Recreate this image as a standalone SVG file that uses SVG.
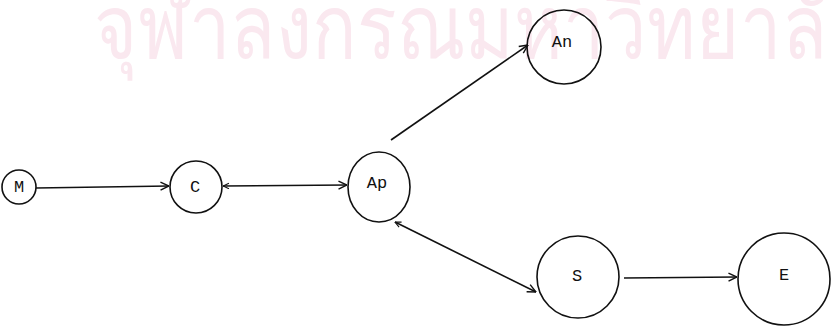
<svg xmlns="http://www.w3.org/2000/svg" width="832" height="330" viewBox="0 0 832 330">
<defs>
<style>
.node circle,.node ellipse{fill:none;stroke:#111;stroke-width:1.6}
.node text{font-family:"Liberation Mono","DejaVu Sans Mono",monospace;font-size:17px;fill:#111;text-anchor:middle;dominant-baseline:central}
.edge{stroke:#111;stroke-width:1.6;fill:none}
.wm{font-family:"Noto Sans","DejaVu Sans",sans-serif;font-size:88px;fill:#fae8ef}
</style>
<marker id="ah" viewBox="0 0 10 10" refX="9.5" refY="5" markerWidth="10" markerHeight="10" markerUnits="userSpaceOnUse" orient="auto">
<path d="M1,1 L9.5,5 L1,9" fill="none" stroke="#111" stroke-width="1.4"/>
</marker>
<marker id="ahs" viewBox="0 0 10 10" refX="9.5" refY="5" markerWidth="7" markerHeight="7" markerUnits="userSpaceOnUse" orient="auto-start-reverse">
<path d="M1,1 L9.5,5 L1,9" fill="none" stroke="#111" stroke-width="1.6"/>
</marker>
</defs>
<rect width="832" height="330" fill="#fff"/>
<text class="wm" transform="translate(94,58) scale(0.84,1)">จุฬาลงกรณมหาวิทยาลัย</text>
<g id="connectors">
<line class="edge" x1="36" y1="188" x2="169" y2="186" marker-end="url(#ah)"/>
<line class="edge" x1="223" y1="186" x2="347" y2="185" marker-start="url(#ahs)" marker-end="url(#ah)"/>
<line class="edge" x1="391" y1="140" x2="528" y2="45" marker-end="url(#ah)"/>
<line class="edge" x1="395" y1="222" x2="536" y2="292" marker-start="url(#ahs)" marker-end="url(#ah)"/>
<line class="edge" x1="624" y1="278" x2="737" y2="277" marker-end="url(#ah)"/>
</g>
<g id="M" class="node"><circle cx="19" cy="187" r="17"/><text x="19" y="187">M</text></g>
<g id="C" class="node"><circle cx="196" cy="187" r="26"/><text x="195" y="187">C</text></g>
<g id="Ap" class="node"><ellipse cx="379" cy="187" rx="31" ry="35"/><text x="377" y="183">Ap</text></g>
<g id="An" class="node"><circle cx="564" cy="47" r="37"/><text x="562" y="42">An</text></g>
<g id="S" class="node"><circle cx="578" cy="277" r="41"/><text x="577" y="276">S</text></g>
<g id="E" class="node"><circle cx="784" cy="279" r="46"/><text x="784" y="275">E</text></g>
</svg>
